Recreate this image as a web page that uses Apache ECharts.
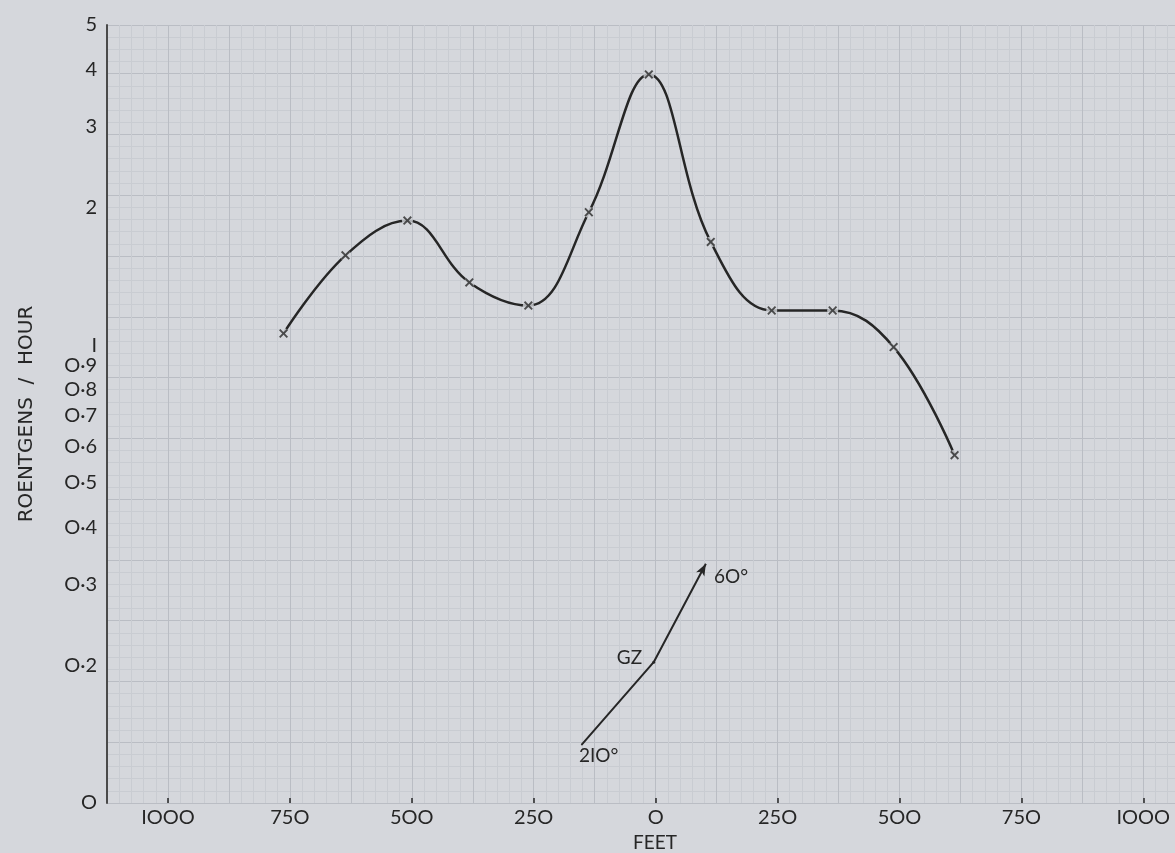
<!DOCTYPE html>
<html>
<head>
<meta charset="utf-8">
<script src="https://cdn.jsdelivr.net/npm/echarts@6/dist/echarts.min.js"></script>
<style>
  html, body { margin: 0; padding: 0; background: #d5d7dc; }
  #main { width: 1175px; height: 853px; }
</style>
</head>
<body>
<div id="main"></div>
<script>
// distance from GZ in feet (negative = 210 deg side) and dose rate
var feet = [-763, -636, -509, -382, -261, -137, -14, 113, 238, 363, 488, 613];
var rate = [1.06, 1.57, 1.87, 1.37, 1.22, 1.95, 3.9, 1.68, 1.19, 1.19, 0.99, 0.575];

// direction sketch: 210 deg end, GZ, 60 deg end
var dirFeet = [-152, -4, 103];
var dirRate = [0.134, 0.203, 0.333];
var dirNames = ['2IO°', 'GZ', '6O°'];

var xTicks = [-1000, -750, -500, -250, 0, 250, 500, 750, 1000];
var yTicks = [0.1, 0.2, 0.3, 0.4, 0.5, 0.6, 0.7, 0.8, 0.9, 1, 2, 3, 4, 5];
var yTickLabels = ['O', 'O·2', 'O·3', 'O·4', 'O·5', 'O·6', 'O·7', 'O·8', 'O·9', 'I', '2', '3', '4', '5'];

var ink = '#262626';
var font = 'Lato, "DejaVu Sans", sans-serif';
var xMark = 'path://M0,1.5L1.5,0L5,3.5L8.5,0L10,1.5L6.5,5L10,8.5L8.5,10L5,6.5L1.5,10L0,8.5L3.5,5Z';

function lg(v) { return Math.log10(v); }

var curve = feet.map(function (f, i) { return [f, lg(rate[i])]; });

var dirData = dirFeet.map(function (f, i) {
	var item = { value: [f, lg(dirRate[i])] };
	if (i == 0) {
		item.symbol = 'circle';
		item.symbolSize = 1;
		item.label = { show: true, position: [-2, 2], formatter: dirNames[i] };
	} else if (i == 1) {
		item.symbol = 'circle';
		item.symbolSize = 3;
		item.label = { show: true, position: 'left', distance: 10, offset: [0, -4], formatter: dirNames[i] };
	} else {
		item.symbol = 'arrow';
		item.symbolSize = [7, 12];
		item.symbolRotate = -28;
		item.label = { show: true, position: 'right', distance: 4, offset: [0, 8], formatter: dirNames[i] };
	}
	return item;
});

var chart = echarts.init(document.getElementById('main'));
var option = {
	backgroundColor: '#d5d7dc',
	animation: false,
	textStyle: { fontFamily: font },
	grid: { left: 107, right: 0, top: 25, bottom: 50, containLabel: false, outerBoundsMode: 'none' },
	xAxis: [{
		type: 'value',
		min: -1125,
		max: 1065,
		axisLine: { show: false, onZero: false },
		splitLine: { show: false },
		axisTick: { show: true, inside: true, customValues: xTicks, length: 5, lineStyle: { color: ink, width: 1.5 } },
		axisLabel: {
			customValues: xTicks,
			margin: 5,
			fontSize: 20,
			color: ink,
			fontFamily: font,
			formatter: function (v) { return v == 0 ? 'O' : String(Math.abs(v)).replace(/0/g, 'O').replace(/1/g, 'I'); }
		},
		name: 'FEET',
		nameLocation: 'middle',
		nameGap: 30,
		nameTextStyle: { fontSize: 19, color: ink, fontFamily: font, padding: [0, 0, 0, 28] }
	}, {
		type: 'value',
		min: -1125,
		max: 1065,
		interval: 125,
		axisLine: { show: false, onZero: false },
		axisTick: { show: false },
		axisLabel: { show: false },
		splitLine: { show: true, lineStyle: { color: '#babdc4', width: 1 } },
		minorTick: { show: false, splitNumber: 5 },
		minorSplitLine: { show: true, lineStyle: { color: '#c9ccd2', width: 1 } }
	}],
	yAxis: [{
		type: 'value',
		min: -1,
		max: lg(5),
		axisLine: { show: true, onZero: false, lineStyle: { color: '#4a4a4a', width: 2 } },
		axisTick: { show: false },
		splitLine: { show: false },
		axisLabel: {
			customValues: yTicks.map(lg),
			margin: 10,
			fontSize: 20,
			color: ink,
			fontFamily: font,
			formatter: function (v) {
				var best = 0;
				for (var i = 0; i < yTicks.length; i++) {
					if (Math.abs(lg(yTicks[i]) - v) < Math.abs(lg(yTicks[best]) - v)) best = i;
				}
				return yTickLabels[best];
			}
		},
		name: 'ROENTGENS  /  HOUR',
		nameLocation: 'middle',
		nameGap: 70,
		nameTextStyle: { fontSize: 20, color: ink, fontFamily: '"DejaVu Sans", sans-serif' }
	}, {
		type: 'value',
		min: 0,
		max: 64,
		interval: 5,
		axisLine: { show: false, onZero: false },
		axisTick: { show: false },
		axisLabel: { show: false },
		splitLine: { show: true, lineStyle: { color: '#babdc4', width: 1 } },
		minorTick: { show: false, splitNumber: 5 },
		minorSplitLine: { show: true, lineStyle: { color: '#c9ccd2', width: 1 } }
	}],
	series: [{
		name: 'dose rate',
		type: 'line',
		data: curve,
		smooth: 0.4,
		symbol: 'none',
		lineStyle: { color: ink, width: 2.5 },
		z: 3
	}, {
		// small gaps in the pen line round each reading
		type: 'scatter',
		data: curve,
		symbol: 'circle',
		symbolSize: 11,
		itemStyle: { color: '#d5d7dc' },
		silent: true,
		z: 4
	}, {
		type: 'scatter',
		data: curve,
		symbol: xMark,
		symbolSize: 9,
		itemStyle: { color: '#2a2a2a' },
		z: 5
	}, {
		name: 'direction',
		type: 'line',
		data: dirData,
		lineStyle: { color: ink, width: 2 },
		itemStyle: { color: ink },
		label: { fontSize: 19, color: ink, fontFamily: font },
		z: 6
	}]
};
chart.setOption(option);
</script>
</body>
</html>
